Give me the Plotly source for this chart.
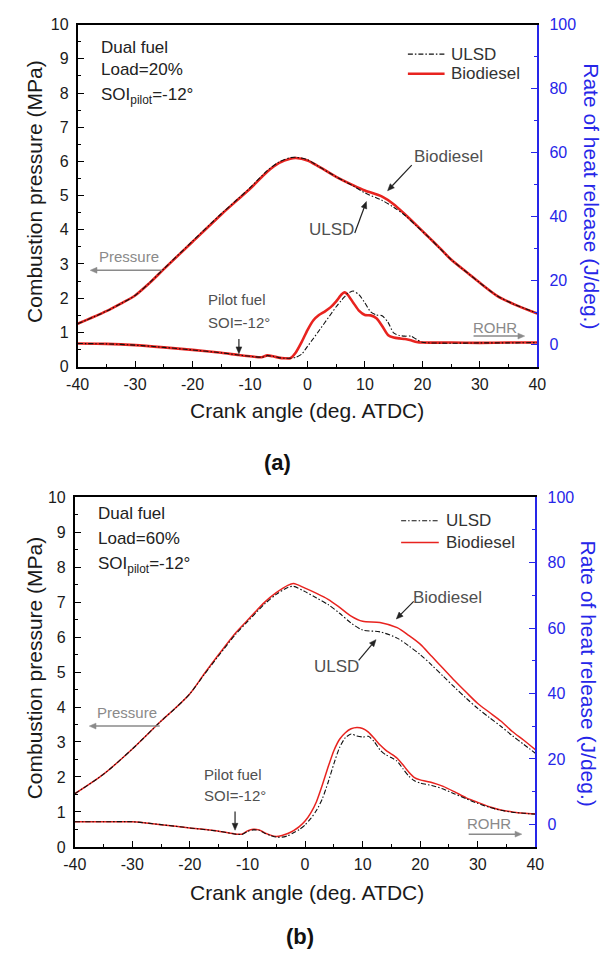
import math
import plotly.graph_objects as go

# ---------------- data ----------------
# (a) Load = 20 %
angle_a_p = [-40, -35, -32.5, -30, -27.5, -25, -20, -15, -12, -10, -7, -5, -3, -2, 0, 2, 5, 8, 10,
             13, 15, 17, 19, 21, 23, 25, 28, 30, 33, 36, 40]
press_a_bio = [1.25, 1.62, 1.84, 2.08, 2.44, 2.85, 3.65, 4.45, 4.9, 5.2, 5.7, 5.95, 6.08, 6.1, 6.03,
               5.85, 5.55, 5.3, 5.15, 4.97, 4.75, 4.45, 4.13, 3.8, 3.47, 3.13, 2.72, 2.45, 2.07,
               1.82, 1.55]
press_a_ulsd = [1.25, 1.62, 1.84, 2.08, 2.45, 2.86, 3.67, 4.47, 4.92, 5.23, 5.73, 5.98, 6.11, 6.12,
                6.05, 5.85, 5.55, 5.28, 5.08, 4.86, 4.66, 4.42, 4.11, 3.8, 3.46, 3.13, 2.72, 2.45,
                2.07, 1.82, 1.56]

angle_a_r = [-40, -35, -30, -25, -20, -15, -12, -10, -8, -7, -6, -5, -4, -3, -2, -1, 0, 1, 2, 3,
             4, 5, 6, 6.5, 7, 8, 9, 10, 11, 12, 13, 14, 15, 16, 17, 18, 19, 20, 25, 30, 35, 40]
rohr_a_bio = [0.3, 0.2, -0.2, -0.9, -1.7, -2.6, -3.3, -3.7, -4.0, -3.4, -3.7, -4.1, -4.3, -4.3, -2.4,
              0.8, 4.5, 7.5, 9.2, 10.3, 11.6, 13.5, 15.8, 16.3, 15.6, 13.0, 10.5, 9.2, 9.1, 8.2,
              5.8, 3.0, 2.2, 1.9, 1.7, 1.3, 0.8, 0.6, 0.6, 0.5, 0.6, 0.6]
rohr_a_ulsd = [0.3, 0.2, -0.2, -0.9, -1.7, -2.6, -3.3, -3.7, -4.0, -3.5, -3.7, -4.1, -4.3, -4.3, -4.0,
               -3.0, -0.6, 1.8, 4.3, 6.8, 9.3, 11.8, 14.0, 15.0, 16.0, 16.7, 15.5, 13.0, 10.2, 9.2,
               9.0, 7.0, 3.6, 2.8, 2.6, 2.6, 1.6, 0.7, 0.4, 0.5, 0.5, 0.6]

# (b) Load = 60 %
angle_b_p = [-40, -35, -30, -25, -22.5, -20, -17.5, -15, -12, -10, -7, -5, -3, -2, 0, 2, 4, 6, 8,
             10, 13, 16, 18, 20, 22, 24, 26, 28, 30, 32, 34, 36, 38, 40]
press_b_bio = [1.52, 2.08, 2.8, 3.6, 3.97, 4.38, 4.95, 5.5, 6.13, 6.48, 7.0, 7.27, 7.48, 7.53, 7.4,
               7.25, 7.08, 6.85, 6.6, 6.45, 6.42, 6.27, 6.05, 5.8, 5.45, 5.1, 4.75, 4.42, 4.1,
               3.85, 3.6, 3.3, 3.05, 2.78]
press_b_ulsd = [1.52, 2.08, 2.8, 3.6, 3.97, 4.38, 4.93, 5.47, 6.09, 6.44, 6.95, 7.22, 7.42, 7.45,
                7.3, 7.12, 6.93, 6.68, 6.4, 6.2, 6.15, 5.97, 5.75, 5.5, 5.2, 4.88, 4.56, 4.25,
                3.96, 3.7, 3.45, 3.18, 2.93, 2.68]

angle_b_r = [-40, -35, -30, -28, -25, -20, -15, -12, -11, -10, -9, -8, -7, -6, -5, -4, -3, -2, -1, 0,
             1, 2, 3, 4, 5, 6, 7, 8, 9, 10, 11, 12, 13, 14, 15, 16, 17, 18, 19, 20,
             22, 24, 26, 28, 30, 32, 34, 36, 38, 40]
rohr_b_bio = [0.8, 0.8, 0.8, 0.5, -0.1, -1.1, -2.1, -3.0, -3.0, -2.0, -1.5, -1.7, -2.6, -3.3, -3.7,
              -3.4, -2.8, -1.9, -0.7, 1.0, 3.5, 7.0, 12.0, 17.5, 22.5, 26.0, 28.0, 29.2, 29.6, 29.3,
              28.2, 26.3, 24.3, 22.7, 21.5, 20.2, 18.2, 16.0, 14.3, 13.6,
              12.8, 11.6, 9.9, 8.1, 6.7, 5.4, 4.4, 3.8, 3.4, 3.2]
rohr_b_ulsd = [0.8, 0.8, 0.8, 0.5, -0.1, -1.1, -2.1, -3.0, -3.1, -2.2, -1.7, -1.8, -2.7, -3.4, -3.9,
               -3.9, -3.5, -2.6, -1.6, -0.2, 1.8, 4.3, 7.8, 12.8, 18.5, 23.5, 26.5, 27.6, 27.0, 26.7,
               26.9, 25.3, 22.8, 21.3, 20.4, 19.3, 17.0, 14.8, 13.3, 12.6,
               11.9, 10.8, 9.3, 7.8, 6.4, 5.2, 4.3, 3.7, 3.4, 3.1]

# tick labels (plain hyphen-minus, as typeset on the figure)
x_ticks = [-40, -30, -20, -10, 0, 10, 20, 30, 40]
x_tick_text = ["-40", "-30", "-20", "-10", "0", "10", "20", "30", "40"]
p_ticks = [0, 1, 2, 3, 4, 5, 6, 7, 8, 9, 10]
r_ticks = [0, 20, 40, 60, 80, 100]

# ---------------- styling ----------------
W, H = 610, 962
FONT = "Liberation Sans, Arial, sans-serif"
RED = "#e8231f"
BLUE = "#2626e8"
INK = "#1a1a1a"
GREY = "#505050"
LIGHT = "#8a8a8a"
DARK_LINE = "#111111"
DASHDOT = "5px,2px,1.5px,2px"
X_TITLE = "Crank angle (deg. ATDC)"
P_TITLE = "Combustion pressure (MPa)"
R_TITLE = "Rate of heat release (J/deg.)"


def px(x):
    return x / W


def py(y):
    return 1 - y / H


fig = go.Figure()

panels = [
    dict(xa="x", ya="y", yr="y2", red_w=2.6,
         ang_p=angle_a_p, p_bio=press_a_bio, p_ulsd=press_a_ulsd,
         ang_r=angle_a_r, r_bio=rohr_a_bio, r_ulsd=rohr_a_ulsd),
    dict(xa="x2", ya="y3", yr="y4", red_w=1.5,
         ang_p=angle_b_p, p_bio=press_b_bio, p_ulsd=press_b_ulsd,
         ang_r=angle_b_r, r_bio=rohr_b_bio, r_ulsd=rohr_b_ulsd),
]

for pn in panels:
    # heat-release curves (right axis)
    fig.add_trace(go.Scatter(x=pn["ang_r"], y=pn["r_bio"], xaxis=pn["xa"], yaxis=pn["yr"],
                             mode="lines", name="Biodiesel", showlegend=False,
                             line=dict(color=RED, width=pn["red_w"], shape="spline", smoothing=0.6)))
    fig.add_trace(go.Scatter(x=pn["ang_r"], y=pn["r_ulsd"], xaxis=pn["xa"], yaxis=pn["yr"],
                             mode="lines", name="ULSD", showlegend=False,
                             line=dict(color=DARK_LINE, width=1.1, dash=DASHDOT,
                                       shape="spline", smoothing=0.6)))
    # cylinder pressure curves (left axis)
    fig.add_trace(go.Scatter(x=pn["ang_p"], y=pn["p_bio"], xaxis=pn["xa"], yaxis=pn["ya"],
                             mode="lines", name="Biodiesel", showlegend=False,
                             line=dict(color=RED, width=pn["red_w"], shape="spline", smoothing=0.8)))
    fig.add_trace(go.Scatter(x=pn["ang_p"], y=pn["p_ulsd"], xaxis=pn["xa"], yaxis=pn["ya"],
                             mode="lines", name="ULSD", showlegend=False,
                             line=dict(color=DARK_LINE, width=1.1, dash=DASHDOT,
                                       shape="spline", smoothing=0.8)))


def xaxis_cfg(dom, anchor):
    return dict(domain=dom, anchor=anchor, range=[-40, 40],
                tickmode="array", tickvals=x_ticks, ticktext=x_tick_text,
                ticks="inside", ticklen=6, tickwidth=1.4, tickcolor="black",
                minor=dict(dtick=5, tick0=0, ticks="inside", ticklen=3, tickwidth=1.2,
                           tickcolor="black"),
                showline=True, linecolor="black", linewidth=1.7, mirror=True,
                showgrid=False, zeroline=False, ticklabelstandoff=2,
                tickfont=dict(family=FONT, size=16, color=INK))


def yleft_cfg(dom, anchor):
    return dict(domain=dom, anchor=anchor, range=[0, 10],
                tickmode="array", tickvals=p_ticks,
                ticks="inside", ticklen=6, tickwidth=1.4, tickcolor="black",
                minor=dict(dtick=0.5, tick0=0, ticks="inside", ticklen=3, tickwidth=1.2,
                           tickcolor="black"),
                showline=True, linecolor="black", linewidth=1.7,
                showgrid=False, zeroline=False, ticklabelstandoff=4,
                tickfont=dict(family=FONT, size=16, color=INK))


def yright_cfg(overlay, anchor):
    return dict(overlaying=overlay, anchor=anchor, side="right", range=[-6.9, 100],
                tickmode="array", tickvals=r_ticks,
                ticks="inside", ticklen=6, tickwidth=1.4, tickcolor=BLUE,
                minor=dict(dtick=10, tick0=0, ticks="inside", ticklen=3, tickwidth=1.2,
                           tickcolor=BLUE),
                showline=True, linecolor=BLUE, linewidth=1.9,
                showgrid=False, zeroline=False, ticklabelstandoff=7,
                tickfont=dict(family=FONT, size=16, color=BLUE))


top_x = [px(68), px(544)]
top_y = [py(365), py(17)]
bot_x = [px(65), px(542)]
bot_y = [py(854), py(498)]

fig.update_layout(
    width=W, height=H,
    margin=dict(l=0, r=0, t=0, b=0),
    paper_bgcolor="white", plot_bgcolor="white",
    font=dict(family=FONT, color=INK),
    showlegend=False,
    xaxis=xaxis_cfg(top_x, "y"),
    yaxis=yleft_cfg(top_y, "x"),
    yaxis2=yright_cfg("y", "x"),
    xaxis2=xaxis_cfg(bot_x, "y3"),
    yaxis3=yleft_cfg(bot_y, "x2"),
    yaxis4=yright_cfg("y3", "x2"),
)

ann = []
shapes = []


def text(xp, yp, s, size, color, bold=False, angle=0, xanchor="center"):
    ann.append(dict(x=px(xp), y=py(yp), xref="paper", yref="paper", text=s, showarrow=False,
                    xanchor=xanchor, yanchor="middle", textangle=angle,
                    font=dict(family=FONT, size=size, color=color,
                              weight="bold" if bold else "normal")))


def arrow(x0, y0, x1, y1, color, width=1.2, head_len=7.0, head_half=3.0):
    # shaft plus filled head; tail (x0, y0) -> tip (x1, y1), in page pixels
    d = math.hypot(x1 - x0, y1 - y0)
    ux, uy = (x1 - x0) / d, (y1 - y0) / d
    bx, by = x1 - ux * head_len, y1 - uy * head_len
    shapes.append(dict(type="line", xref="paper", yref="paper",
                       x0=px(x0), y0=py(y0), x1=px(bx), y1=py(by),
                       line=dict(color=color, width=width)))
    lx, ly = bx - uy * head_half, by + ux * head_half
    rx, ry = bx + uy * head_half, by - ux * head_half
    path = (f"M {px(x1):.5f},{py(y1):.5f} L {px(lx):.5f},{py(ly):.5f} "
            f"L {px(rx):.5f},{py(ry):.5f} Z")
    shapes.append(dict(type="path", xref="paper", yref="paper", path=path,
                       fillcolor=color, line=dict(color=color, width=0.5)))


def legend_row(x0, x1, yp, label, color, width, dash):
    shapes.append(dict(type="line", xref="paper", yref="paper",
                       x0=px(x0), x1=px(x1), y0=py(yp), y1=py(yp),
                       line=dict(color=color, width=width, dash=dash)))
    text(x1 + 5, yp, label, 17, "#333333", xanchor="left")


# legends
legend_row(410, 448, 47, "ULSD", DARK_LINE, 1.1, DASHDOT)
legend_row(410, 448, 67, "Biodiesel", RED, 2.6, "solid")
legend_row(403, 442, 522, "ULSD", DARK_LINE, 1.1, DASHDOT)
legend_row(403, 442, 544, "Biodiesel", RED, 1.5, "solid")

# axis titles
for yc_l, yc_r, xt_y, x_r in [(187, 192, 410, 600), (672, 678, 900, 598)]:
    text(23, yc_l, P_TITLE, 21, INK, angle=-90)
    text(x_r, yc_r, R_TITLE, 21, BLUE, angle=90)
    text(306, xt_y, X_TITLE, 21, INK)

text(275, 463, "(a)", 22, "#111111", bold=True)
text(298, 945, "(b)", 22, "#111111", bold=True)

# operating-condition notes
text(90, 40, "Dual fuel", 17, "#222222", xanchor="left")
text(90, 63, "Load=20%", 17, "#222222", xanchor="left")
text(90, 90, "SOI<sub>pilot</sub>=-12°", 17, "#222222", xanchor="left")
text(87, 515, "Dual fuel", 17, "#222222", xanchor="left")
text(87, 540, "Load=60%", 17, "#222222", xanchor="left")
text(87, 567, "SOI<sub>pilot</sub>=-12°", 17, "#222222", xanchor="left")

# curve callouts, panel (a)
text(452, 151, "Biodiesel", 17, GREY)
arrow(414, 160, 389, 186, "#222222")
text(331, 225, "ULSD", 17, GREY)
arrow(355, 229, 367, 197, "#222222")
text(121, 253, "Pressure", 15, LIGHT)
arrow(155, 267, 81, 267, LIGHT, width=1.5)
text(233, 297, "Pilot fuel", 15, GREY)
text(235, 320, "SOI=-12°", 15, GREY)
arrow(235, 337, 235, 352, "#222222")
text(500, 325, "ROHR", 15, LIGHT)
arrow(478, 334, 531, 334, LIGHT, width=1.5)

# curve callouts, panel (b)
text(451, 600, "Biodiesel", 17, GREY)
arrow(416, 604, 398, 622, "#222222")
text(336, 670, "ULSD", 17, GREY)
arrow(359, 664, 377, 643, "#222222")
text(119, 717, "Pressure", 15, LIGHT)
arrow(153, 731, 80, 731, LIGHT, width=1.5)
text(229, 780, "Pilot fuel", 15, GREY)
text(231, 802, "SOI=-12°", 15, GREY)
arrow(231, 818, 231, 837, "#222222")
text(494, 830, "ROHR", 15, LIGHT)
arrow(473, 841, 528, 841, LIGHT, width=1.5)

fig.update_layout(annotations=ann, shapes=shapes)

fig.write_html("out.html")
